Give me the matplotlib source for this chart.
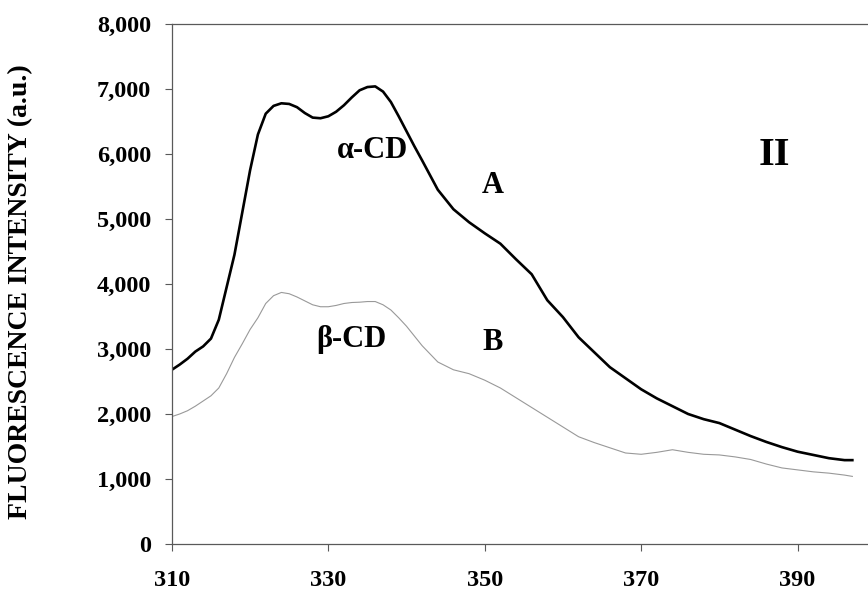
import matplotlib
matplotlib.use("Agg")
from matplotlib import pyplot as plt

wavelength = [310, 311, 312, 313, 314, 315, 316, 317, 318, 319, 320, 321, 322,
              323, 324, 325, 326, 327, 328, 329, 330, 331, 332, 333, 334, 335,
              336, 337, 338, 339, 340, 341, 342, 344, 346, 348, 350, 352, 354,
              356, 358, 360, 362, 364, 366, 368, 370, 372, 374, 376, 378, 380,
              382, 384, 386, 388, 390, 392, 394, 396, 397]

alpha_cd = [2680, 2760, 2850, 2960, 3040, 3160, 3450, 3950, 4450, 5100, 5750,
            6300, 6620, 6740, 6780, 6770, 6720, 6630, 6560, 6550, 6580, 6650,
            6750, 6870, 6980, 7030, 7040, 6960, 6800, 6580, 6350, 6120, 5900,
            5450, 5150, 4950, 4780, 4620, 4380, 4150, 3750, 3490, 3180, 2950,
            2720, 2550, 2380, 2240, 2120, 2000, 1920, 1860, 1760, 1660, 1570,
            1490, 1420, 1370, 1320, 1290, 1290]

beta_cd = [1960, 2000, 2050, 2120, 2200, 2280, 2400, 2620, 2870, 3080, 3300,
           3480, 3700, 3820, 3870, 3850, 3800, 3740, 3680, 3650, 3650, 3670,
           3700, 3715, 3720, 3730, 3730, 3680, 3600, 3480, 3350, 3200, 3050,
           2800, 2680, 2620, 2520, 2400, 2250, 2100, 1950, 1800, 1650, 1560,
           1480, 1400, 1380, 1410, 1450, 1410, 1380, 1370, 1340, 1300, 1230,
           1170, 1140, 1110, 1090, 1060, 1040]

y_ticks = [0, 1000, 2000, 3000, 4000, 5000, 6000, 7000, 8000]
y_labels = ["0", "1,000", "2,000", "3,000", "4,000", "5,000", "6,000",
            "7,000", "8,000"]
x_ticks = [310, 330, 350, 370, 390]

plt.rcParams["font.family"] = ["Liberation Serif", "DejaVu Serif"]
plt.rcParams["font.weight"] = "bold"

fig = plt.figure(figsize=(8.68, 5.94), dpi=100)
ax = fig.add_axes([0.198, 0.0842, 0.802, 0.8754])

ax.plot(wavelength, alpha_cd, color="black", linewidth=1.9)
ax.plot(wavelength, beta_cd, color="0.6", linewidth=0.8)

ax.set_xlim(310, 399)
ax.set_ylim(0, 8000)
ax.set_xticks(x_ticks)
ax.set_yticks(y_ticks)
ax.set_yticklabels(y_labels)
ax.tick_params(labelsize=17.5, length=5, width=0.8, color="0.35")
ax.tick_params(axis="y", pad=10)
ax.tick_params(axis="x", pad=14)

ax.spines["right"].set_visible(False)
for side in ["left", "top", "bottom"]:
    ax.spines[side].set_color("0.35")
    ax.spines[side].set_linewidth(0.9)

ax.set_ylabel("FLUORESCENCE INTENSITY (a.u.)", fontsize=20,
              fontweight="bold")
ax.yaxis.set_label_coords(-0.2, 0.485)

ax.text(335.6, 6060, "α-CD", fontsize=22, fontweight="bold",
        ha="center", va="center")
ax.text(351, 5520, "A", fontsize=22, fontweight="bold",
        ha="center", va="center")
ax.text(333, 3140, "β-CD", fontsize=22, fontweight="bold",
        ha="center", va="center")
ax.text(351, 3100, "B", fontsize=22, fontweight="bold",
        ha="center", va="center")
ax.text(387, 5980, "II", fontsize=29, fontweight="bold",
        ha="center", va="center")

fig.savefig("out.png", dpi=100)
